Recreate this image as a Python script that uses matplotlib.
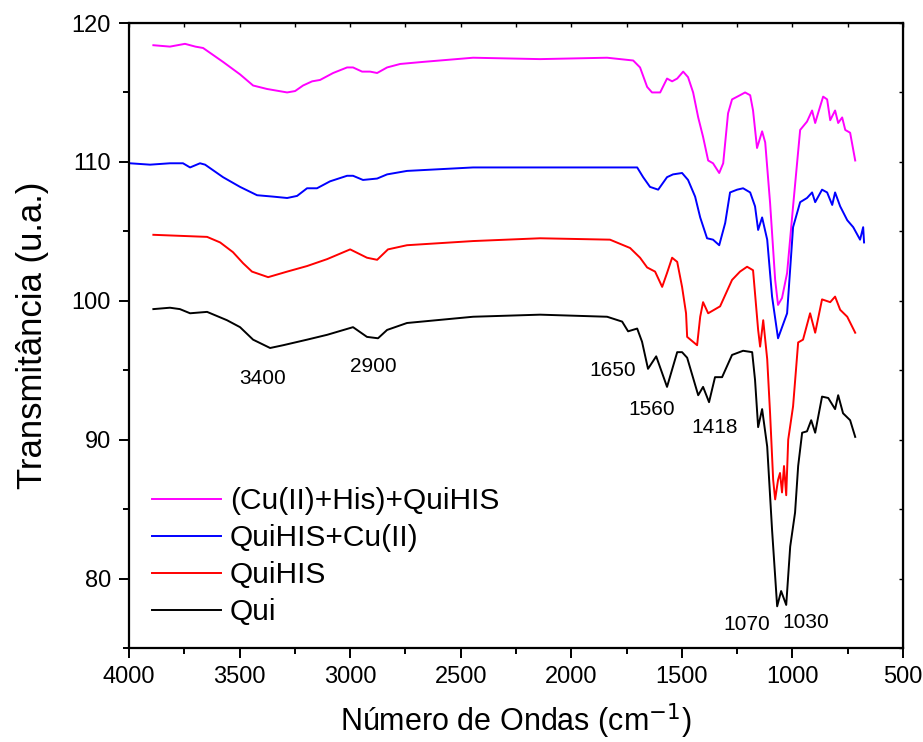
import matplotlib.pyplot as plt
from matplotlib.ticker import MultipleLocator

plt.rcParams['font.family'] = ['Liberation Sans', 'DejaVu Sans']

# (Cu(II)+His)+QuiHIS
mag_x = [3890, 3815, 3747, 3700, 3665, 3575, 3498, 3439, 3376, 3285, 3249, 3213, 3172, 3136,
         3077, 3014, 2987, 2946, 2910, 2878, 2833, 2774, 2670, 2444, 2141, 1838, 1720, 1689,
         1657, 1635, 1598, 1567, 1544, 1521, 1494, 1472, 1449, 1426, 1404, 1381, 1359, 1331,
         1313, 1291, 1273, 1237, 1214, 1191, 1178, 1160, 1137, 1123, 1101, 1078, 1065, 1047,
         1024, 997, 965, 934, 911, 897, 884, 861, 843, 829, 807, 793, 775, 761, 739, 716]
mag_y = [118.4, 118.3, 118.5, 118.3, 118.2, 117.2, 116.3, 115.5, 115.25, 115.0, 115.1, 115.5,
         115.8, 115.9, 116.4, 116.8, 116.8, 116.5, 116.5, 116.4, 116.8, 117.05, 117.2, 117.5,
         117.4, 117.5, 117.3, 116.8, 115.4, 115.0, 115.0, 116.0, 115.8, 116.0, 116.5, 116.1,
         115.0, 113.2, 111.8, 110.1, 109.9, 109.2, 109.9, 113.5, 114.5, 114.8, 115.0, 114.8,
         113.7, 111.0, 112.2, 111.4, 107.05, 101.5, 99.7, 100.2, 102.0, 106.8, 112.3, 112.9,
         113.7, 112.8, 113.5, 114.7, 114.5, 113.0, 113.7, 112.8, 113.2, 112.3, 112.1, 110.1]

# QuiHIS+Cu(II)
blue_x = [3996, 3905, 3815, 3756, 3724, 3679, 3656, 3575, 3498, 3421, 3349, 3285, 3240, 3195,
          3150, 3091, 3014, 2987, 2942, 2878, 2833, 2743, 2444, 2141, 1702, 1675, 1644, 1607,
          1567, 1540, 1499, 1472, 1440, 1417, 1386, 1359, 1331, 1304, 1282, 1250, 1223, 1191,
          1169, 1155, 1137, 1114, 1092, 1065, 1024, 997, 965, 934, 911, 897, 866, 843, 820,
          807, 784, 752, 725, 694, 680, 676]
blue_y = [109.9, 109.8, 109.9, 109.9, 109.6, 109.9, 109.8, 108.9, 108.2, 107.6, 107.5, 107.4,
          107.55, 108.1, 108.1, 108.6, 109.0, 109.0, 108.7, 108.8, 109.1, 109.35, 109.6, 109.6,
          109.6, 108.9, 108.2, 108.0, 108.9, 109.1, 109.2, 108.7, 107.5, 106.0, 104.5, 104.4,
          104.0, 105.6, 107.8, 108.0, 108.1, 107.8, 106.8, 105.1, 106.0, 104.4, 100.3, 97.3,
          99.1, 105.3, 107.1, 107.4, 107.8, 107.1, 108.0, 107.8, 106.9, 107.8, 106.8, 105.8,
          105.3, 104.4, 105.3, 104.2]

# QuiHIS
red_x = [3890, 3647, 3588, 3530, 3484, 3444, 3371, 3285, 3195, 3104, 3000, 2924, 2878, 2829,
         2743, 2444, 2141, 1825, 1734, 1689, 1657, 1621, 1589, 1567, 1544, 1521, 1499, 1481,
         1476, 1431, 1417, 1404, 1381, 1327, 1273, 1237, 1205, 1178, 1155, 1146, 1132, 1114,
         1101, 1087, 1078, 1065, 1056, 1047, 1038, 1028, 1019, 997, 974, 952, 920, 897, 866,
         829, 807, 784, 752, 716]
red_y = [104.75, 104.6, 104.2, 103.5, 102.7, 102.1, 101.7, 102.1, 102.5, 103.0, 103.7, 103.1,
         102.95, 103.7, 104.0, 104.3, 104.5, 104.4, 103.8, 103.1, 102.4, 102.1, 101.0, 102.0,
         103.1, 102.8, 101.0, 99.1, 97.4, 96.8, 98.85, 99.9, 99.1, 99.6, 101.5, 102.1, 102.45,
         102.2, 97.9, 96.7, 98.6, 95.8, 91.9, 87.1, 85.7, 87.1, 87.6, 86.2, 88.1, 86.0, 90.0,
         92.4, 97.0, 97.2, 99.1, 97.7, 100.1, 99.9, 100.3, 99.35, 98.85, 97.7]

# Qui
black_x = [3890, 3815, 3770, 3724, 3647, 3557, 3498, 3439, 3362, 3303, 3195, 3104, 2987, 2924,
           2874, 2833, 2743, 2444, 2141, 1838, 1770, 1743, 1702, 1680, 1653, 1616, 1567, 1521,
           1499, 1476, 1426, 1404, 1377, 1350, 1318, 1273, 1223, 1182, 1169, 1155, 1137, 1114,
           1092, 1069, 1051, 1028, 1010, 988, 974, 956, 934, 915, 897, 866, 838, 807, 793, 771,
           739, 716]
black_y = [99.4, 99.5, 99.4, 99.1, 99.2, 98.6, 98.1, 97.2, 96.6, 96.8, 97.2, 97.55, 98.1, 97.4,
           97.3, 97.9, 98.4, 98.85, 99.0, 98.85, 98.5, 97.8, 98.0, 97.05, 95.1, 96.0, 93.8, 96.3,
           96.3, 95.9, 93.2, 93.8, 92.7, 94.5, 94.5, 96.1, 96.4, 96.3, 94.3, 90.9, 92.2, 89.5,
           83.5, 78.0, 79.1, 78.1, 82.3, 84.75, 88.1, 90.5, 90.6, 91.4, 90.5, 93.1, 93.0, 92.2,
           93.2, 91.9, 91.4, 90.2]

peak_labels = ['3400', '2900', '1650', '1560', '1418', '1070', '1030']
peak_x = [3394, 2896, 1815, 1635, 1354, 1205, 938]
peak_y = [94.4, 95.3, 95.0, 92.2, 90.9, 76.7, 76.8]

fig = plt.figure(figsize=(9.23, 7.42), dpi=100)
ax = fig.add_axes([0.1398, 0.1267, 0.8385, 0.8423])

ax.plot(mag_x, mag_y, color='#FF00FF', lw=1.4, label='(Cu(II)+His)+QuiHIS')
ax.plot(blue_x, blue_y, color='#0000FF', lw=1.4, label='QuiHIS+Cu(II)')
ax.plot(red_x, red_y, color='#FF0000', lw=1.4, label='QuiHIS')
ax.plot(black_x, black_y, color='black', lw=1.4, label='Qui')

for lab, px, py in zip(peak_labels, peak_x, peak_y):
    ax.text(px, py, lab, ha='center', va='center', fontsize=15)

ax.set_xlim(4000, 500)
ax.set_ylim(75, 120)
ax.xaxis.set_major_locator(MultipleLocator(500))
ax.xaxis.set_minor_locator(MultipleLocator(250))
ax.yaxis.set_major_locator(MultipleLocator(10))
ax.yaxis.set_minor_locator(MultipleLocator(5))
ax.tick_params(which='major', direction='out', length=7, width=1.4, labelsize=17, pad=6)
ax.tick_params(which='minor', direction='out', length=4, width=1.4)

top = ax.secondary_xaxis('top')
top.xaxis.set_major_locator(MultipleLocator(250))
top.tick_params(direction='in', length=3, width=1, labeltop=False)
right = ax.secondary_yaxis('right')
right.yaxis.set_major_locator(MultipleLocator(5))
right.tick_params(direction='in', length=3, width=1, labelright=False)

for sp in ax.spines.values():
    sp.set_linewidth(1.6)

ax.set_xlabel('Número de Ondas (cm$^{-1}$)', fontsize=22, labelpad=10)
ax.set_ylabel('Transmitância (u.a.)', fontsize=25, labelpad=16)

ax.legend(loc='lower left', bbox_to_anchor=(0.03, 0.035), frameon=False, fontsize=21.5,
          handlelength=2.3, handletextpad=0.3, labelspacing=0.3, borderaxespad=0,
          borderpad=0)

fig.savefig('out.png', dpi=100)
